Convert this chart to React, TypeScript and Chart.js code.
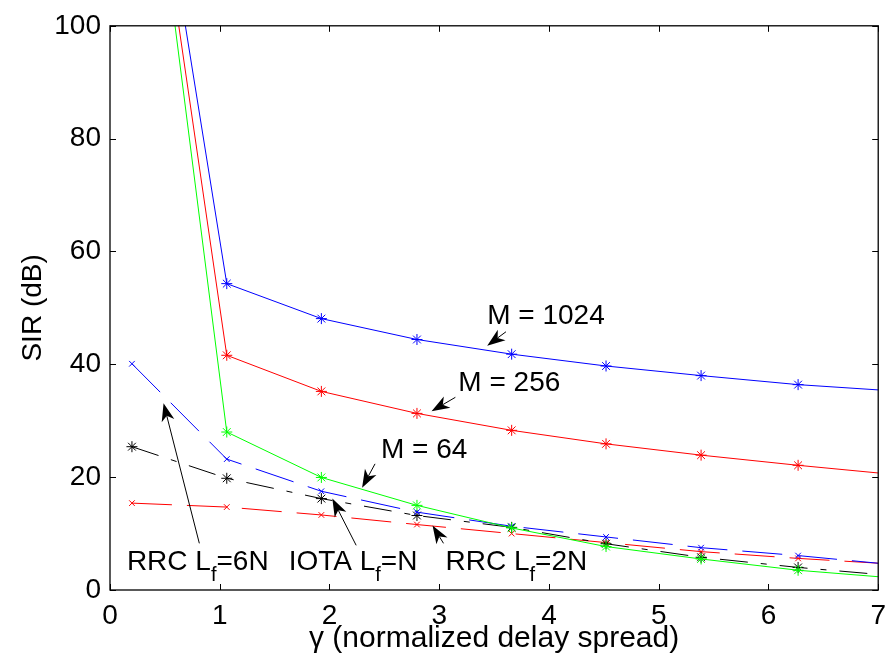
import React, { useEffect, useRef } from 'react';
import { Chart, registerables } from 'chart.js';

Chart.register(...registerables);

// γ (normalized delay spread) sample positions
const gammaValues = [0.2, 1.064, 1.926, 2.797, 3.66, 4.52, 5.386, 6.27, 7.13];

// SIR (dB) series
const sirM1024 = [159, 54.3, 48.1, 44.4, 41.8, 39.7, 38.0, 36.4, 35.3];
const sirM256 = [157, 41.6, 35.2, 31.3, 28.3, 25.9, 23.9, 22.1, 20.5];
const sirM64 = [160, 28.0, 19.95, 15.0, 11.0, 7.7, 5.5, 3.5, 2.15];
const sirRrc6N = [40.1, 23.2, 17.5, 13.8, 11.3, 9.4, 7.5, 6.1, 4.5];
const sirIota = [25.4, 19.8, 16.2, 13.2, 11.1, 8.2, 5.8, 4.0, 2.55];
const sirRrc2N = [15.4, 14.7, 13.3, 11.6, 10.0, 8.4, 6.8, 5.6, 4.6];

const xTicks = [0, 1, 2, 3, 4, 5, 6, 7];
const yTicks = [0, 20, 40, 60, 80, 100];

// text annotations: parts [text, isSubscript], anchor (left, baseline) in data units
const textLabels = [
  { parts: [['M = 1024', false]], x: 3.437, y: 47.06 },
  { parts: [['M = 256', false]], x: 3.174, y: 35.21 },
  { parts: [['M = 64', false]], x: 2.469, y: 23.42 },
  { parts: [['RRC L', false], ['f', true], ['=6N', false]], x: 0.154, y: 3.52 },
  { parts: [['IOTA L', false], ['f', true], ['=N', false]], x: 1.628, y: 3.52 },
  { parts: [['RRC L', false], ['f', true], ['=2N', false]], x: 3.057, y: 3.52 },
];

// arrows: tail -> tip in data units
const arrows = [
  { tx: 3.608, ty: 45.77, hx: 3.437, hy: 43.31 },
  { tx: 3.147, ty: 34.15, hx: 2.93, hy: 31.69 },
  { tx: 2.415, ty: 22.36, hx: 2.297, hy: 18.13 },
  { tx: 0.814, ty: 8.27, hx: 0.488, hy: 33.1 },
  { tx: 2.243, ty: 7.92, hx: 2.026, hy: 16.2 },
  { tx: 3.039, ty: 8.27, hx: 2.939, hy: 11.44 },
];

const FONT = '"Liberation Sans", Arial, Helvetica, sans-serif';

function pts(ys: number[]) {
  return ys.map((y, i) => ({ x: gammaValues[i], y }));
}

const overlayPlugin = {
  id: 'matlabOverlay',
  afterDatasetsDraw(chart: any) {
    const { ctx, chartArea } = chart;
    const xs = chart.scales.x;
    const ys = chart.scales.y;
    const { left, right, top, bottom } = chartArea;
    ctx.save();
    // frame
    ctx.strokeStyle = '#000';
    ctx.lineWidth = 1.3;
    ctx.strokeRect(left, top, right - left, bottom - top);
    // ticks (inward, mirrored)
    ctx.lineWidth = 1;
    const tl = 6;
    ctx.beginPath();
    xTicks.forEach((v) => {
      const p = Math.round(xs.getPixelForValue(v)) + 0.5;
      ctx.moveTo(p, bottom);
      ctx.lineTo(p, bottom - tl);
      ctx.moveTo(p, top);
      ctx.lineTo(p, top + tl);
    });
    yTicks.forEach((v) => {
      const p = Math.round(ys.getPixelForValue(v)) + 0.5;
      ctx.moveTo(left, p);
      ctx.lineTo(left + tl, p);
      ctx.moveTo(right, p);
      ctx.lineTo(right - tl, p);
    });
    ctx.stroke();

    // arrows
    ctx.fillStyle = '#000';
    ctx.strokeStyle = '#000';
    ctx.lineWidth = 1;
    arrows.forEach((a) => {
      const x0 = xs.getPixelForValue(a.tx);
      const y0 = ys.getPixelForValue(a.ty);
      const x1 = xs.getPixelForValue(a.hx);
      const y1 = ys.getPixelForValue(a.hy);
      const ang = Math.atan2(y1 - y0, x1 - x0);
      const ux = Math.cos(ang);
      const uy = Math.sin(ang);
      const nx = -uy;
      const ny = ux;
      const L = 18;
      const W = 6.5;
      const notch = 5;
      ctx.beginPath();
      ctx.moveTo(x0, y0);
      ctx.lineTo(x1 - ux * (L - notch), y1 - uy * (L - notch));
      ctx.stroke();
      ctx.beginPath();
      ctx.moveTo(x1, y1);
      ctx.lineTo(x1 - ux * L + nx * W, y1 - uy * L + ny * W);
      ctx.lineTo(x1 - ux * (L - notch), y1 - uy * (L - notch));
      ctx.lineTo(x1 - ux * L - nx * W, y1 - uy * L - ny * W);
      ctx.closePath();
      ctx.fill();
    });

    // labels
    ctx.textBaseline = 'alphabetic';
    ctx.textAlign = 'left';
    textLabels.forEach((t) => {
      let x = xs.getPixelForValue(t.x);
      const y = ys.getPixelForValue(t.y);
      t.parts.forEach(([s, sub]: any) => {
        if (sub) {
          ctx.font = `20px ${FONT}`;
          ctx.fillText(s, x, y + 11);
        } else {
          ctx.font = `28px ${FONT}`;
          ctx.fillText(s, x, y);
        }
        x += ctx.measureText(s).width;
      });
    });
    ctx.restore();
  },
};

export default function App() {
  const ref = useRef<HTMLCanvasElement | null>(null);
  useEffect(() => {
    document.body.style.margin = '0';
    const canvas = ref.current!;
    const common = { borderWidth: 1, tension: 0, fill: false, pointBorderWidth: 1 };
    const chart = new Chart(canvas, {
      type: 'line',
      data: {
        datasets: [
          { ...common, label: 'M = 1024', data: pts(sirM1024), borderColor: '#0000ff', backgroundColor: '#0000ff', pointStyle: 'star', pointRadius: 5.5, pointBorderColor: '#0000ff' },
          { ...common, label: 'M = 256', data: pts(sirM256), borderColor: '#ff0000', backgroundColor: '#ff0000', pointStyle: 'star', pointRadius: 5.5, pointBorderColor: '#ff0000' },
          { ...common, label: 'M = 64', data: pts(sirM64), borderColor: '#00ff00', backgroundColor: '#00ff00', pointStyle: 'star', pointRadius: 5.5, pointBorderColor: '#00ff00' },
          { ...common, label: 'RRC Lf=6N', data: pts(sirRrc6N), borderColor: '#0000ff', backgroundColor: '#0000ff', borderDash: [40, 15], pointStyle: 'crossRot', pointRadius: 4, pointBorderColor: '#0000ff' },
          { ...common, label: 'IOTA Lf=N', data: pts(sirIota), borderColor: '#000000', backgroundColor: '#000000', borderDash: [28, 13, 6, 13], pointStyle: 'star', pointRadius: 5.5, pointBorderColor: '#000000' },
          { ...common, label: 'RRC Lf=2N', data: pts(sirRrc2N), borderColor: '#ff0000', backgroundColor: '#ff0000', borderDash: [40, 15], pointStyle: 'crossRot', pointRadius: 4, pointBorderColor: '#ff0000' },
        ],
      },
      options: {
        responsive: false,
        animation: false,
        events: [],
        layout: { padding: { top: 22, right: 11, left: 0, bottom: 0 } },
        plugins: { legend: { display: false }, tooltip: { enabled: false }, title: { display: false } },
        scales: {
          x: {
            type: 'linear',
            min: 0,
            max: 7,
            afterFit: (axis: any) => { axis.height = 68; },
            afterBuildTicks: (axis: any) => { axis.ticks = xTicks.map((v) => ({ value: v })); },
            grid: { display: false, drawTicks: false },
            border: { display: false },
            ticks: { color: '#000', font: { family: FONT, size: 28 }, padding: 9, maxRotation: 0, autoSkip: false },
            title: { display: true, text: 'γ (normalized delay spread)', color: '#000', font: { family: FONT, size: 30 }, padding: { top: 0, bottom: 1 } },
          },
          y: {
            type: 'linear',
            min: 0,
            max: 100,
            afterFit: (axis: any) => { axis.width = 110; },
            afterBuildTicks: (axis: any) => { axis.ticks = yTicks.map((v) => ({ value: v })); },
            grid: { display: false, drawTicks: false },
            border: { display: false },
            ticks: { color: '#000', font: { family: FONT, size: 28 }, padding: 9, autoSkip: false },
            title: { display: true, text: 'SIR (dB)', color: '#000', font: { family: FONT, size: 28 }, padding: { top: 16, bottom: 0 } },
          },
        },
      },
      plugins: [overlayPlugin],
    } as any);
    return () => chart.destroy();
  }, []);
  return <canvas ref={ref} width={895} height={658} style={{ display: 'block' }} />;
}
